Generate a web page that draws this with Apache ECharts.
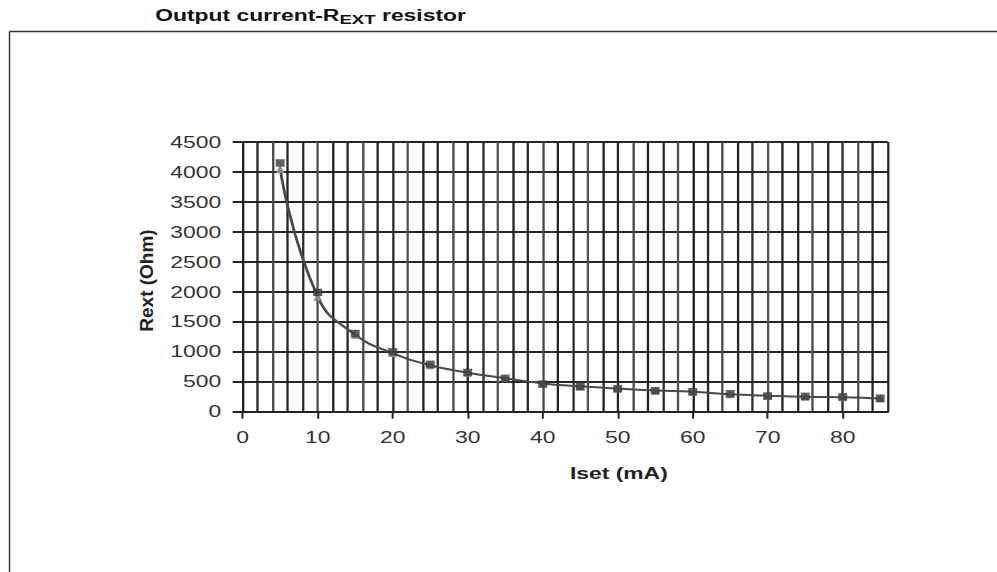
<!DOCTYPE html>
<html>
<head>
<meta charset="utf-8">
<script src="https://cdn.jsdelivr.net/npm/echarts@6/dist/echarts.min.js"></script>
<style>
html,body{margin:0;padding:0;background:#fff;overflow:hidden;}
#wrap{position:absolute;left:0;top:0;width:997px;height:572px;overflow:hidden;background:#fff;}
#chart{position:absolute;left:0;top:0;width:697px;height:572px;transform:scaleX(1.430416);transform-origin:0 0;}
</style>
</head>
<body>
<div id="wrap"><div id="chart"></div></div>
<script>
// ---- data ----
const isetValues   = [5, 10, 15, 20, 25, 30, 35, 40, 45, 50, 55, 60, 65, 70, 75, 80, 85];
const rextMeasured = [4150, 1990, 1305, 1000, 790, 655, 556, 461, 417, 383, 350, 333, 300, 262, 256, 248, 225];
const rextCurve    = [4050, 1920, 1285, 978, 775, 650, 558, 472, 424, 386, 355, 332, 290, 268, 250, 240, 222];
const xTickValues  = [0, 10, 20, 30, 40, 50, 60, 70, 80];
const yTickStep    = 500;

const S = 997 / 697;               // horizontal stretch of the original picture
const FONT = 'Liberation Sans, Arial, Helvetica, sans-serif';

const curveData = isetValues.map((x, i) => [x, rextCurve[i]]);
const measData  = isetValues.map((x, i) => [x, rextMeasured[i]]);

// vertical grid lines in the scan alternate between dark and slightly lighter strokes
const vColors = ['#1f1f1f', '#262626', '#484848', '#222222', '#2a2a2a', '#505050'];

const chart = echarts.init(document.getElementById('chart'), null, {renderer: 'svg'});
chart.setOption({
  animation: false,
  backgroundColor: '#ffffff',
  title: {
    left: 148 / S,
    top: 2,
    text: '{a|Output current-R}{b|EXT}{a| resistor}',
    textStyle: {
      rich: {
        a: {fontFamily: FONT, fontWeight: 'bold', fontSize: 16, color: '#111', lineHeight: 20, verticalAlign: 'top'},
        b: {fontFamily: FONT, fontWeight: 'bold', fontSize: 13, color: '#111', lineHeight: 20, verticalAlign: 'top', padding: [6, 0, 0, 0]}
      }
    }
  },
  grid: {left: 242.7 / S, right: 697 - 887.7 / S, top: 142, bottom: 572 - 411.7, containLabel: false},
  xAxis: [
    {
      // grid axis: a vertical line every 2 mA
      type: 'value', min: 0, max: 86, interval: 2, position: 'bottom',
      axisLine: {show: false}, axisTick: {show: false}, axisLabel: {show: false},
      splitLine: {show: true, lineStyle: {color: vColors, width: 1.6}}
    },
    {
      // label axis: ticks and labels every 10 mA
      type: 'value', min: 0, max: 86, interval: 10, position: 'bottom',
      axisLine: {show: true, onZero: false, lineStyle: {color: '#222', width: 2}},
      axisTick: {show: true, customValues: xTickValues, length: 7, lineStyle: {color: '#222', width: 1.4}},
      axisLabel: {customValues: xTickValues, margin: 18, color: '#333', fontSize: 16, fontFamily: FONT},
      splitLine: {show: false},
      name: 'Iset (mA)', nameLocation: 'middle', nameGap: 54,
      nameTextStyle: {fontFamily: FONT, fontWeight: 'bold', fontSize: 16, color: '#222', padding: [0, 0, 0, 75]}
    }
  ],
  yAxis: {
    type: 'value', min: 0, max: 4500, interval: yTickStep,
    axisLine: {show: false},
    axisTick: {show: true, length: 7, lineStyle: {color: '#222', width: 2}},
    axisLabel: {margin: 15, color: '#333', fontSize: 16, fontFamily: FONT, formatter: v => String(v)},
    splitLine: {show: true, lineStyle: {color: '#262626', width: 2}}
  },
  graphic: [
    {type: 'line', shape: {x1: 9.5 / S, y1: 31.5, x2: 697, y2: 31.5}, style: {stroke: '#333', lineWidth: 1.5}, silent: true},
    {type: 'line', shape: {x1: 9.5 / S, y1: 31.5, x2: 9.5 / S, y2: 572}, style: {stroke: '#333', lineWidth: 1.0}, silent: true},
    {type: 'text', x: 147 / S, y: 280.5, rotation: Math.PI / 2, scaleY: 1 / S,
     style: {text: 'Rext (Ohm)', font: 'bold 19px ' + FONT, fill: '#222', align: 'center', verticalAlign: 'middle'}, silent: true}
  ],
  series: [
    {
      name: 'curve', type: 'line', data: curveData, smooth: true, xAxisIndex: 0,
      symbol: 'triangle', symbolSize: [6, 8],
      lineStyle: {color: '#4a4a4a', width: 2},
      itemStyle: {color: '#8a8a8a'}, z: 3
    },
    {
      name: 'measured', type: 'scatter', data: measData, xAxisIndex: 0,
      symbol: 'rect', symbolSize: [6.3, 7.5],
      itemStyle: {color: '#3a3a3a'}, z: 4
    }
  ]
});
</script>
</body>
</html>
